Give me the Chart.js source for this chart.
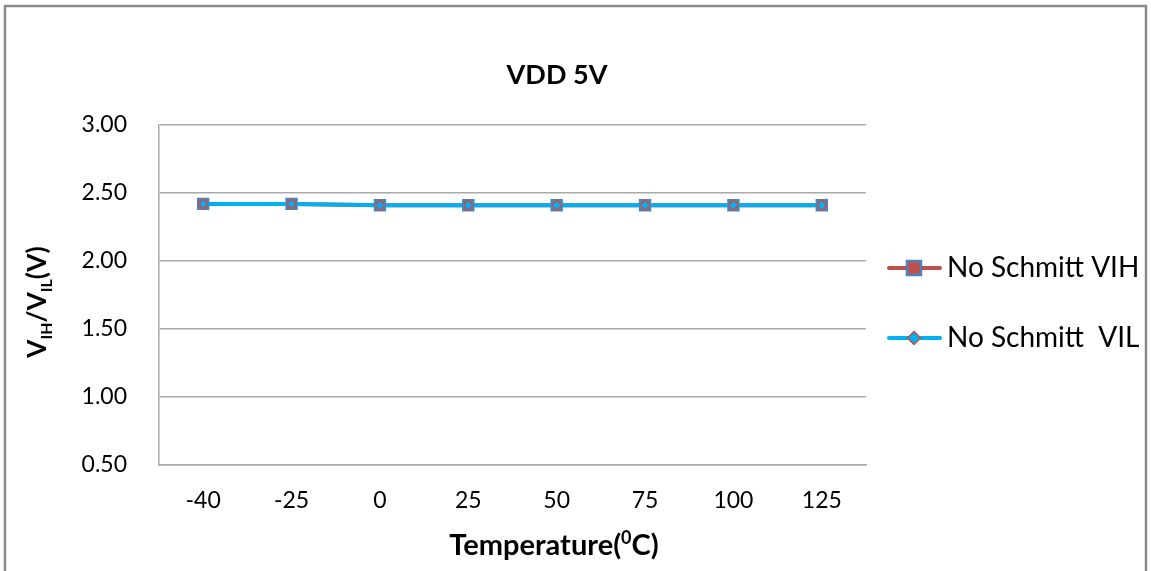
<!DOCTYPE html>
<html><head><meta charset="utf-8">
<script src="https://cdn.jsdelivr.net/npm/chart.js@4/dist/chart.umd.min.js"></script>
<style>html,body{margin:0;padding:0;background:#fff;}#wrap{width:1151px;height:571px;}</style>
</head><body><div id="wrap"><canvas id="c" width="1151" height="571"></canvas></div>
<script>
const categories = ['-40','-25','0','25','50','75','100','125'];
const vihValues = [2.42,2.42,2.41,2.41,2.41,2.41,2.41,2.41];
const vilValues = [2.42,2.42,2.41,2.41,2.41,2.41,2.41,2.41];
const seriesNames = ['No Schmitt VIH','No Schmitt  VIL'];
const chartTitle = 'VDD 5V';
const FONT = 'Lato, "Open Sans", sans-serif';

const decor = {
  id:'decor',
  beforeDraw(chart){
    const ctx = chart.ctx;
    ctx.save();
    ctx.fillStyle='#fff'; ctx.fillRect(0,0,chart.width,chart.height);
    ctx.strokeStyle='#8a8a8a'; ctx.lineWidth=2.5;
    ctx.strokeRect(5,6,1141,600);
    ctx.restore();
  },
  afterDraw(chart){
    const ctx = chart.ctx; const ca = chart.chartArea;
    ctx.save();
    ctx.fillStyle='#000';
    // title
    ctx.font='bold 27px '+FONT; ctx.textAlign='center'; ctx.textBaseline='middle';
    ctx.fillText(chartTitle,557,75);
    // x title with superscript
    const big='bold 29px '+FONT, small='bold 18px '+FONT;
    const parts=[['Temperature(',big,0],['0',small,-11],['C)',big,0]];
    let w=0; parts.forEach(p=>{ctx.font=p[1]; w+=ctx.measureText(p[0]).width;});
    let x=554 - w/2; ctx.textAlign='left'; ctx.textBaseline='alphabetic';
    parts.forEach(p=>{ctx.font=p[1]; ctx.fillText(p[0],x,555+p[2]); x+=ctx.measureText(p[0]).width;});
    // y title rotated with subscripts
    const ybig='bold 26px '+FONT, ysmall='bold 16px '+FONT;
    ctx.translate(46,302); ctx.rotate(-Math.PI/2);
    const yp=[['V',ybig,0],['IH',ysmall,6],['/V',ybig,0],['IL',ysmall,6],['(V)',ybig,0]];
    w=0; yp.forEach(p=>{ctx.font=p[1]; w+=ctx.measureText(p[0]).width;});
    x=-w/2;
    yp.forEach(p=>{ctx.font=p[1]; ctx.fillText(p[0],x,0+p[2]); x+=ctx.measureText(p[0]).width;});
    ctx.restore();
    // legend
    ctx.save();
    const items=[{ds:chart.data.datasets[0],y:268},{ds:chart.data.datasets[1],y:338}];
    items.forEach(it=>{
      const ds=it.ds;
      ctx.strokeStyle=ds.borderColor; ctx.lineWidth=4; ctx.lineCap='round';
      ctx.beginPath(); ctx.moveTo(889,it.y); ctx.lineTo(940,it.y); ctx.stroke();
      ctx.fillStyle=ds.pointBackgroundColor; ctx.strokeStyle=ds.pointBorderColor; ctx.lineWidth=ds.pointBorderWidth;
      ctx.beginPath();
      if(ds.pointStyle==='rect'){ctx.rect(914-ds.pointRadius,it.y-ds.pointRadius,ds.pointRadius*2,ds.pointRadius*2);} 
      else {const r=ds.pointRadius+1.5; ctx.moveTo(914,it.y-r);ctx.lineTo(914+r,it.y);ctx.lineTo(914,it.y+r);ctx.lineTo(914-r,it.y);ctx.closePath();}
      ctx.fill(); ctx.stroke();
      ctx.fillStyle='#000'; ctx.font='28px '+FONT; ctx.textAlign='left'; ctx.textBaseline='middle';
      ctx.fillText(ds.label,947,it.y);
    });
    ctx.restore();
  }
};

new Chart(document.getElementById('c'),{
  type:'line',
  data:{labels:categories,datasets:[
    {label:seriesNames[0],data:vihValues,borderColor:'#C0504D',borderWidth:4,pointStyle:'rect',pointRadius:7,
     pointBackgroundColor:'#C0504D',pointBorderColor:'#4F81BD',pointBorderWidth:2.5,tension:0,order:2},
    {label:seriesNames[1],data:vilValues,borderColor:'#00B0F0',borderWidth:4,pointStyle:'rectRot',pointRadius:5,
     pointBackgroundColor:'#00B0F0',pointBorderColor:'#C0504D',pointBorderWidth:1.5,tension:0,order:1}
  ]},
  options:{
    responsive:false,animation:false,devicePixelRatio:1,
    layout:{padding:{left:0,top:125,right:285,bottom:0}},
    plugins:{legend:{display:false},title:{display:false},tooltip:{enabled:false}},
    scales:{
      x:{offset:true,grid:{display:false,drawTicks:false},border:{display:true,color:'#aaaaaa',width:1.5},
         ticks:{color:'#000',font:{family:FONT,size:23},padding:22},
         afterFit(s){s.height=106;}},
      y:{min:0.5,max:3,grid:{color:'#aaaaaa',lineWidth:1.5,drawTicks:false},border:{display:true,color:'#aaaaaa',width:1.5},
         ticks:{stepSize:0.5,color:'#000',font:{family:FONT,size:23},padding:32,callback:v=>v.toFixed(2)},
         afterFit(s){s.width=159;}}
    }
  },
  plugins:[decor]
});
</script></body></html>
